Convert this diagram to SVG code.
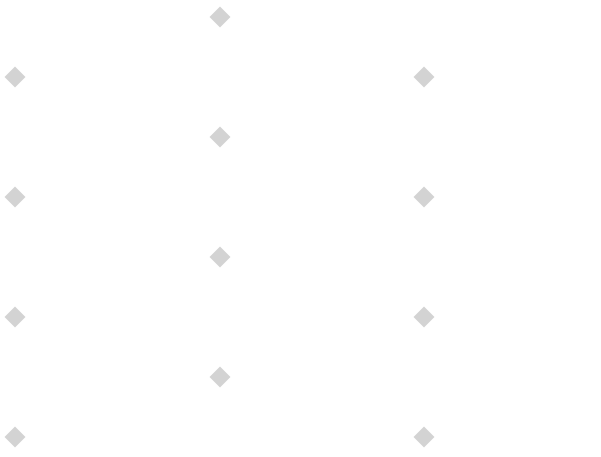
<svg xmlns="http://www.w3.org/2000/svg" width="601" height="457" viewBox="0 0 601 457">
<style>
.d{fill:#d3d3d3;stroke:none}
</style>
<defs>
<path id="dia" d="M0,-10.5 L10.5,0 L0,10.5 L-10.5,0 Z"/>
</defs>
<rect width="601" height="457" fill="#ffffff"/>
<g id="connectors"></g>
<g id="n1" transform="translate(220,17)"><use href="#dia" class="d"/></g>
<g id="n2" transform="translate(15,77)"><use href="#dia" class="d"/></g>
<g id="n3" transform="translate(424,77)"><use href="#dia" class="d"/></g>
<g id="n4" transform="translate(220,137)"><use href="#dia" class="d"/></g>
<g id="n5" transform="translate(15,197)"><use href="#dia" class="d"/></g>
<g id="n6" transform="translate(424,197)"><use href="#dia" class="d"/></g>
<g id="n7" transform="translate(220,257)"><use href="#dia" class="d"/></g>
<g id="n8" transform="translate(15,317)"><use href="#dia" class="d"/></g>
<g id="n9" transform="translate(424,317)"><use href="#dia" class="d"/></g>
<g id="n10" transform="translate(220,377)"><use href="#dia" class="d"/></g>
<g id="n11" transform="translate(15,437)"><use href="#dia" class="d"/></g>
<g id="n12" transform="translate(424,437)"><use href="#dia" class="d"/></g>
</svg>
